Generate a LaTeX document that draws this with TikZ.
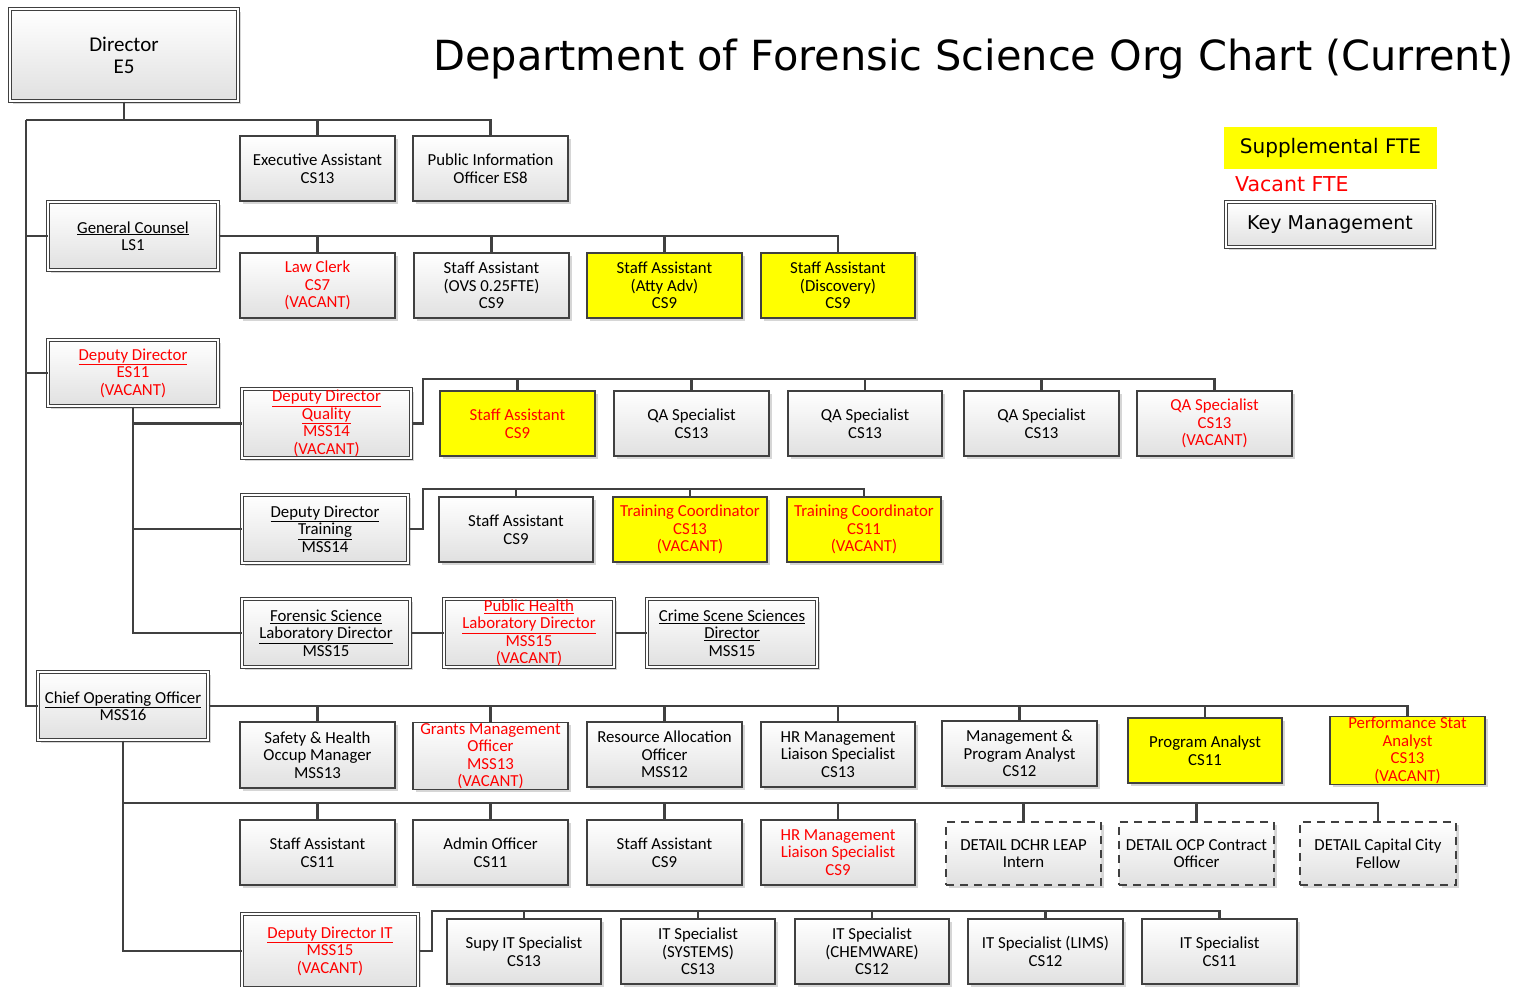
\documentclass[tikz,border=0pt]{standalone}
\usepackage{fontspec}
\setmainfont{Carlito}
\newfontfamily\titlefont{DejaVu Sans}
\usetikzlibrary{calc,shadows}
\definecolor{vred}{HTML}{FF0000}
\definecolor{ln}{HTML}{404040}
\definecolor{ylw}{HTML}{FFFF00}
\newcommand\bxfont{\fontsize{16.8}{17.5}\selectfont}
\newcommand\uln[1]{\underline{#1}}
\newcommand\obox[7]{\node[#1, minimum width={(#5)-(#3)}, minimum height={(#6)-(#4)}] (#2) at ({((#3)+(#5))/2},{((#4)+(#6))/2}) {#7};}
\newcommand\dbox[7]{\obox{#1}{#2}{(#3)+2}{(#4)+2}{(#5)-2}{(#6)-2}{#7}}
\tikzset{
  base/.style={draw=ln, line width=1.1pt, align=center, inner sep=1pt, font=\bxfont, text=black,
    general shadow={fill=black!16, shadow xshift=2.5pt, shadow yshift=-2.5pt}},
  gbox/.style={base, top color=white, bottom color=black!12},
  ybox/.style={base, fill=ylw},
  dblbox/.style={gbox, line width=1pt, double=white, double distance=2pt},
  dashbox/.style={gbox, dash pattern=on 8pt off 6pt},
  red/.style={text=vred},
  conn/.style={draw=ln, line width=2.2pt},
  thinconn/.style={draw=ln, line width=1.5pt},
}
\begin{document}
\begin{tikzpicture}[x=1pt,y=-1pt]
\useasboundingbox (0,0) rectangle (1516,986);
\clip (0,0) rectangle (1516,986);
% title and legend
\node[anchor=base west, inner sep=0, font=\titlefont\fontsize{41.5}{45}\selectfont] (title) at (433,70) {Department of Forensic Science Org Chart (Current)};
\obox{fill=ylw, inner sep=0, font=\titlefont\fontsize{20}{22}\selectfont}{legS}{1224}{127}{1437}{169}{Supplemental FTE}
\node[anchor=west, inner sep=0, text=vred, font=\titlefont\fontsize{20.5}{22}\selectfont] (legV) at (1235,184) {Vacant FTE};
\dbox{dblbox, font=\titlefont\fontsize{19}{20}\selectfont}{legK}{1224}{200}{1436}{249}{Key Management}

% top
\dbox{dblbox, font=\fontsize{21}{22}\selectfont}{dir}{8}{7}{240}{103}{Director\\E5}
\obox{gbox}{ea}{240}{136}{395}{201}{Executive Assistant\\CS13}
\obox{gbox}{pio}{413}{136}{568}{201}{Public Information\\Officer ES8}

% general counsel
\dbox{dblbox}{gc}{46}{200}{220}{272}{\uln{General Counsel}\\LS1}
\obox{gbox,red}{lc}{240}{253}{395}{318}{Law Clerk\\CS7\\(VACANT)}
\obox{gbox}{sa1}{414}{253}{569}{318}{Staff Assistant\\(OVS 0.25FTE)\\CS9}
\obox{ybox}{sa2}{587}{253}{742}{318}{Staff Assistant\\(Atty Adv)\\CS9}
\obox{ybox}{sa3}{761}{253}{915}{318}{Staff Assistant\\(Discovery)\\CS9}

% deputy director
\dbox{dblbox,red}{dd}{46}{338}{220}{408}{\uln{Deputy Director}\\ES11\\(VACANT)}
\dbox{dblbox,red}{ddq}{240}{387}{413}{460}{\uln{Deputy Director}\\\uln{Quality}\\MSS14\\(VACANT)}
\obox{ybox,red}{qsa}{440}{391}{595}{456}{Staff Assistant\\CS9}
\obox{gbox}{qa1}{614}{391}{769}{456}{QA Specialist\\CS13}
\obox{gbox}{qa2}{788}{391}{942}{456}{QA Specialist\\CS13}
\obox{gbox}{qa3}{964}{391}{1119}{456}{QA Specialist\\CS13}
\obox{gbox,red}{qa4}{1137}{391}{1292}{456}{QA Specialist\\CS13\\(VACANT)}

\dbox{dblbox}{ddt}{240}{493}{410}{565}{\uln{Deputy Director}\\\uln{Training}\\MSS14}
\obox{gbox}{tsa}{439}{497}{593}{562}{Staff Assistant\\CS9}
\obox{ybox,red}{tc1}{613}{497}{767}{562}{Training Coordinator\\CS13\\(VACANT)}
\obox{ybox,red}{tc2}{787}{497}{941}{562}{Training Coordinator\\CS11\\(VACANT)}

\dbox{dblbox}{fsl}{240}{597}{412}{669}{\uln{Forensic Science}\\\uln{Laboratory Director}\\MSS15}
\dbox{dblbox,red}{phl}{442}{597}{616}{669}{\uln{Public Health}\\\uln{Laboratory Director}\\MSS15\\(VACANT)}
\dbox{dblbox}{css}{645}{597}{819}{669}{\uln{Crime Scene Sciences}\\\uln{Director}\\MSS15}

% COO
\dbox{dblbox}{coo}{36}{670}{210}{742}{\uln{Chief Operating Officer}\\MSS16}
\obox{gbox}{sho}{240}{722}{395}{788}{Safety \& Health\\Occup Manager\\MSS13}
\obox{gbox,red}{gmo}{413}{724}{568}{788}{Grants Management\\Officer\\MSS13\\(VACANT)}
\obox{gbox}{rao}{587}{722}{742}{787}{Resource Allocation\\Officer\\MSS12}
\obox{gbox}{hrm}{761}{722}{915}{787}{HR Management\\Liaison Specialist\\CS13}
\obox{gbox}{mpa}{942}{721}{1097}{786}{Management \&\\Program Analyst\\CS12}
\obox{ybox}{pa}{1128}{718}{1282}{783}{Program Analyst\\CS11}
\obox{ybox,red}{psa}{1330}{718}{1485}{783}{Performance Stat\\Analyst\\CS13\\(VACANT)}

\obox{gbox}{sa11}{240}{820}{395}{885}{Staff Assistant\\CS11}
\obox{gbox}{ao}{413}{820}{568}{885}{Admin Officer\\CS11}
\obox{gbox}{sa9}{587}{820}{742}{885}{Staff Assistant\\CS9}
\obox{gbox,red}{hrl}{761}{820}{915}{885}{HR Management\\Liaison Specialist\\CS9}
\obox{dashbox}{dl}{946}{822}{1101}{885}{DETAIL DCHR LEAP\\Intern}
\obox{dashbox}{doc}{1119}{822}{1274}{885}{DETAIL OCP Contract\\Officer}
\obox{dashbox}{dcf}{1300}{822}{1456}{885}{DETAIL Capital City\\Fellow}

\dbox{dblbox,red}{ddit}{240}{912}{420}{990}{\uln{Deputy Director IT}\\MSS15\\(VACANT)}
\obox{gbox}{it1}{447}{919}{601}{984}{Supy IT Specialist\\CS13}
\obox{gbox}{it2}{621}{919}{775}{984}{IT Specialist\\(SYSTEMS)\\CS13}
\obox{gbox}{it3}{795}{919}{949}{984}{IT Specialist\\(CHEMWARE)\\CS12}
\obox{gbox}{it4}{968}{919}{1123}{984}{IT Specialist (LIMS)\\CS12}
\obox{gbox}{it5}{1142}{919}{1297}{984}{IT Specialist\\CS11}

% connectors
\coordinate (busA) at (26,120);
\draw[conn] (dir.south) -- (dir.south |- busA);
\draw[conn] (busA) -- (pio.north |- busA) -- (pio.north);
\draw[conn] (ea.north) -- (ea.north |- busA);
\draw[conn] (busA) |- (coo.west);
\draw[conn] (busA |- gc.west) -- (gc.west);
\draw[conn] (busA |- dd.west) -- (dd.west);

\draw[conn] (gc.east) -| (sa3.north);
\foreach \n in {lc,sa1,sa2} \draw[conn] (\n.north) -- (\n.north |- gc.east);

\draw[conn] (dd.south) |- (fsl.west);
\draw[conn] (dd.south |- ddq.west) -- (ddq.west);
\draw[conn] (dd.south |- ddt.west) -- (ddt.west);

\coordinate (qbus) at (423,379);
\draw[conn] (ddq.east) -| (qbus) -| (qa4.north);
\foreach \n in {qsa,qa1,qa2,qa3} \draw[conn] (\n.north) -- (\n.north |- qbus);

\coordinate (tbus) at (423,489);
\draw[conn] (ddt.east) -| (tbus) -| (tc2.north);
\foreach \n in {tsa,tc1} \draw[conn] (\n.north) -- (\n.north |- tbus);

\draw[thinconn] (fsl.east) -- (phl.west);
\draw[thinconn] (phl.east) -- (css.west);

\draw[conn] (coo.east) -| (psa.north);
\foreach \n in {sho,gmo,rao,hrm,mpa,pa} \draw[conn] (\n.north) -- (\n.north |- coo.east);

\coordinate (cbus) at (123,803);
\draw[conn] (coo.south) |- (ddit.west);
\draw[conn] (cbus) -| (dcf.north);
\foreach \n in {sa11,ao,sa9,hrl,dl,doc} \draw[conn] (\n.north) -- (\n.north |- cbus);

\coordinate (ibus) at (432,911);
\draw[conn] (ddit.east) -| (ibus) -| (it5.north);
\foreach \n in {it1,it2,it3,it4} \draw[conn] (\n.north) -- (\n.north |- ibus);
\end{tikzpicture}
\end{document}
